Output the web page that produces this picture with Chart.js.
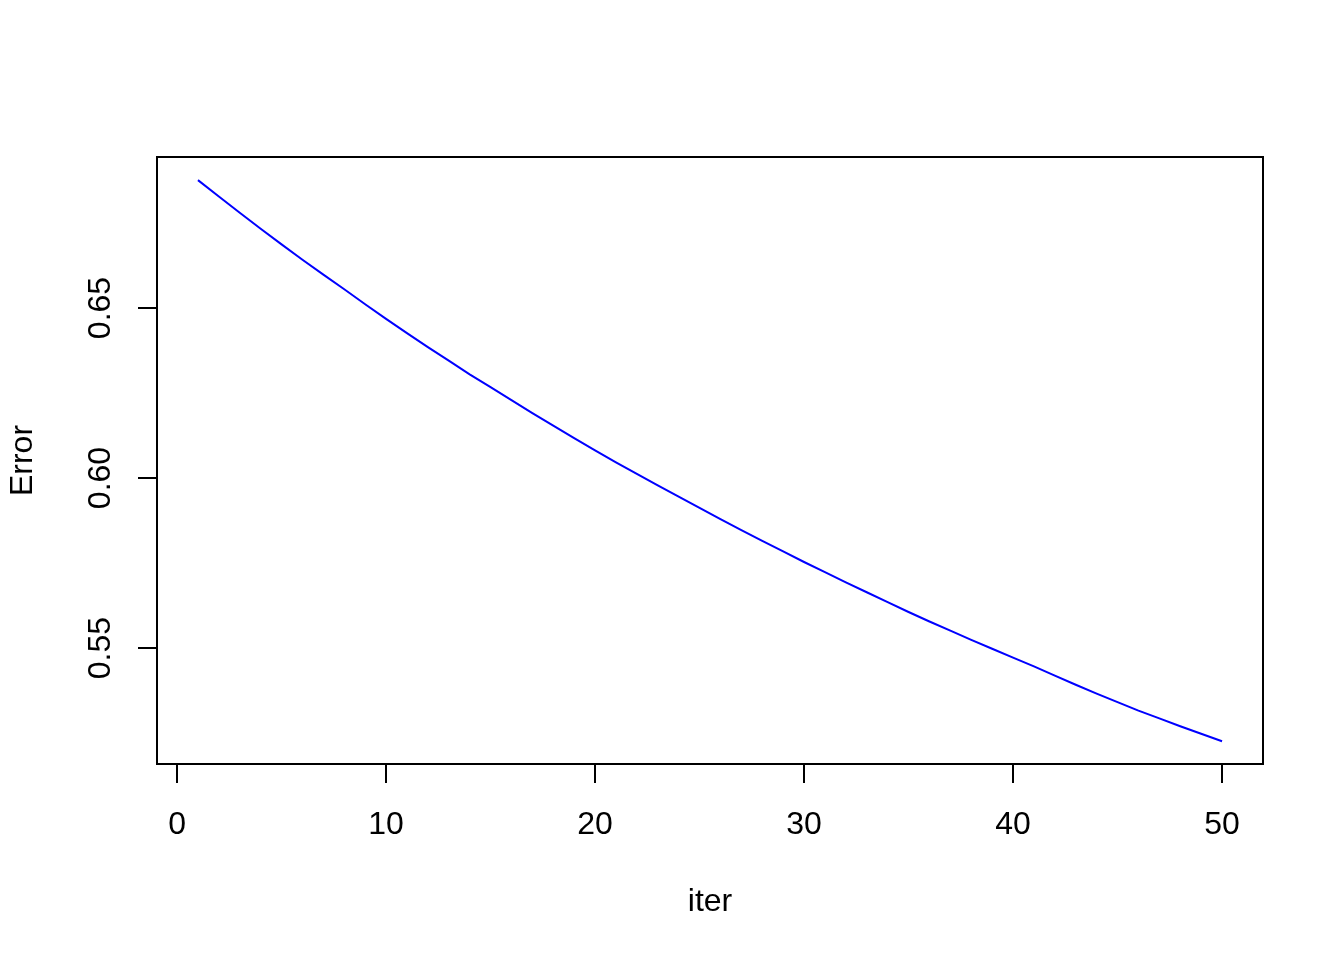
<!DOCTYPE html>
<html>
<head>
<meta charset="utf-8">
<script src="https://cdn.jsdelivr.net/npm/chart.js@4/dist/chart.umd.min.js"></script>
<style>
html,body{margin:0;padding:0;background:#fff;}
#wrap{width:1344px;height:960px;}
</style>
</head>
<body>
<div id="wrap"><canvas id="c" width="1344" height="960"></canvas></div>
<script>
const iter = [1,2,3,4,5,6,7,8,9,10,11,12,13,14,15,16,17,18,19,20,21,22,23,24,25,26,27,28,29,30,31,32,33,34,35,36,37,38,39,40,41,42,43,44,45,46,47,48,49,50];
const errorVals = [0.6876,0.6828,0.6780,0.6733,0.6687,0.6642,0.6598,0.6555,0.6511,0.6468,
  0.6426,0.6385,0.6345,0.6305,0.6267,0.6229,0.6191,0.6154,0.6117,0.6081,
  0.6046,0.6012,0.5978,0.5945,0.5912,0.5879,0.5847,0.5815,0.5784,0.5753,
  0.5723,0.5693,0.5664,0.5635,0.5606,0.5578,0.5551,0.5524,0.5498,0.5472,
  0.5446,0.5419,0.5392,0.5366,0.5341,0.5316,0.5293,0.5270,0.5248,0.5226];
const xTicks = [0,10,20,30,40,50];
const yTicks = [0.55,0.60,0.65];
const xLabel = 'iter';
const yLabel = 'Error';

const FONT = {family: '"Liberation Sans", Arial, sans-serif', size: 32};

const boxPlugin = {
  id: 'box',
  afterDraw(chart) {
    const {ctx, chartArea: a} = chart;
    ctx.save();
    ctx.strokeStyle = '#000';
    ctx.lineWidth = 2;
    ctx.strokeRect(a.left, a.top, a.right - a.left, a.bottom - a.top);
    ctx.restore();
  }
};

new Chart(document.getElementById('c'), {
  type: 'line',
  data: {
    datasets: [{
      data: iter.map((v, i) => ({x: v, y: errorVals[i]})),
      borderColor: '#0000FF',
      borderWidth: 2,
      pointRadius: 0,
      tension: 0,
      fill: false
    }]
  },
  options: {
    responsive: false,
    animation: false,
    layout: {padding: {top: 157, right: 81, left: 0, bottom: 0}},
    plugins: {legend: {display: false}, tooltip: {enabled: false}},
    scales: {
      x: {
        type: 'linear',
        min: -0.96,
        max: 51.96,
        afterBuildTicks: s => { s.ticks = xTicks.map(v => ({value: v})); },
        afterFit: s => { s.height = 196; },
        grid: {display: true, drawOnChartArea: false, drawTicks: true, tickLength: 19, color: '#000', lineWidth: 2},
        border: {display: false},
        ticks: {color: '#000', font: FONT, padding: 23, maxRotation: 0, minRotation: 0, includeBounds: false,
          callback: v => String(v)},
        title: {display: true, text: xLabel, color: '#000', font: FONT, padding: {top: 0, bottom: 39}}
      },
      y: {
        type: 'linear',
        min: 0.5159,
        max: 0.6944,
        afterBuildTicks: s => { s.ticks = yTicks.map(v => ({value: v})); },
        afterFit: s => { s.width = 157; },
        grid: {display: true, drawOnChartArea: false, drawTicks: true, tickLength: 19, color: '#000', lineWidth: 2},
        border: {display: false},
        ticks: {color: '#000', font: FONT, padding: 6, minRotation: 90, maxRotation: 90, crossAlign: 'center', includeBounds: false,
          callback: v => v.toFixed(2)},
        title: {display: true, text: yLabel, color: '#000', font: FONT, padding: {top: 4, bottom: 0}}
      }
    }
  },
  plugins: [boxPlugin]
});
</script>
</body>
</html>
